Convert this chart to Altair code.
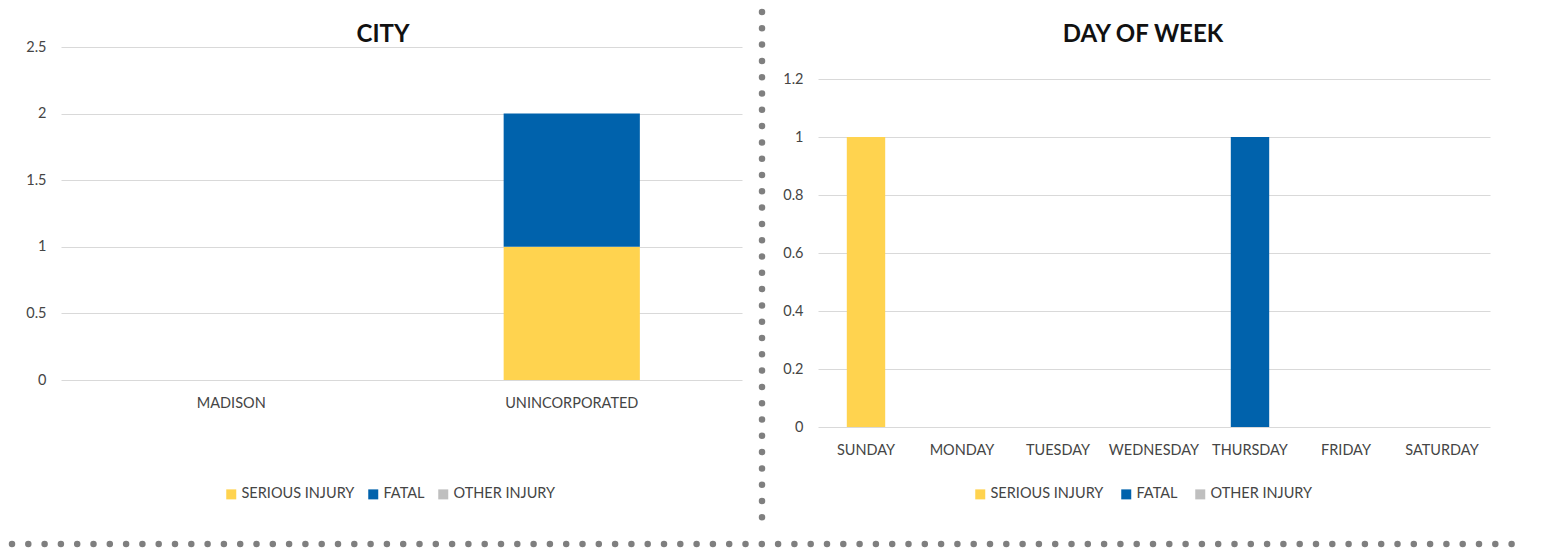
import altair as alt
import pandas as pd

# ---- data ----
severity = ["SERIOUS INJURY", "FATAL", "OTHER INJURY"]
sev_colors = ["#FFD34F", "#0062AC", "#BFBFBF"]

cities = ["MADISON", "UNINCORPORATED"]
city_serious = [0, 1]
city_fatal = [0, 1]
city_other = [0, 0]

days = ["SUNDAY", "MONDAY", "TUESDAY", "WEDNESDAY", "THURSDAY", "FRIDAY", "SATURDAY"]
day_serious = [1, 0, 0, 0, 0, 0, 0]
day_fatal = [0, 0, 0, 0, 1, 0, 0]
day_other = [0, 0, 0, 0, 0, 0, 0]

city_ticks = [0, 0.5, 1, 1.5, 2, 2.5]
day_ticks = [0, 0.2, 0.4, 0.6, 0.8, 1.0, 1.2]


def long_table(cats, series):
    rows = []
    for si, (name, vals) in enumerate(zip(severity, series)):
        for c, v in zip(cats, vals):
            rows.append({"cat": c, "severity": name, "sev_idx": si, "value": v})
    return pd.DataFrame(rows)


city_df = long_table(cities, [city_serious, city_fatal, city_other])
day_df = long_table(days, [day_serious, day_fatal, day_other])

FONT = "Lato"
TEXT = "#454545"
GRID = "#D9D9D9"
DOT = "#7F7F7F"
FS = 14.5

one = pd.DataFrame({"k": [0]})


def panel(df, cats, ticks, ymax, title, title_x, legend_x, legend_y, col_pad):
    bars = alt.Chart(df).mark_bar().encode(
        x=alt.X("cat:N", sort=cats,
                scale=alt.Scale(paddingInner=0.6, paddingOuter=0.3),
                axis=alt.Axis(title=None, labelAngle=0, domain=False, ticks=False,
                              labelPadding=16, labelFontSize=FS, labelFont=FONT,
                              labelColor=TEXT, grid=False)),
        y=alt.Y("value:Q", stack="zero",
                scale=alt.Scale(domain=[0, ymax], nice=False, zero=True),
                axis=alt.Axis(title=None, values=ticks, format="~g", domain=False,
                              ticks=False, labelPadding=15, labelFontSize=FS,
                              labelFont=FONT, labelColor=TEXT, grid=True,
                              gridColor=GRID, gridWidth=1.2)),
        color=alt.Color("severity:N",
                        scale=alt.Scale(domain=severity, range=sev_colors),
                        legend=alt.Legend(title=None, orient="none", direction="horizontal",
                                          legendX=legend_x, legendY=legend_y,
                                          symbolType="square", symbolSize=100,
                                          symbolStrokeWidth=0, labelFontSize=FS,
                                          labelFont=FONT, labelColor=TEXT,
                                          labelOffset=3, columnPadding=col_pad)),
        order=alt.Order("sev_idx:Q", sort="ascending"),
    )
    ttl = alt.Chart(one).mark_text(text=title, font=FONT, fontSize=24, fontWeight="bold",
                                   color="#111111", align="center",
                                   baseline="alphabetic").encode(
        x=alt.value(title_x), y=alt.value(-5))
    return bars, ttl


bars_l, ttl_l = panel(city_df, cities, city_ticks, 2.5, "CITY", 322, 163, 440, 11)

# separators (decoration), placed relative to the left panel
vsep = alt.Chart(one).mark_rule(color=DOT, strokeWidth=6.5, strokeCap="round",
                                strokeDash=[0, 16.3]).encode(
    x=alt.value(701), y=alt.value(-35), y2=alt.value(477))
hsep = alt.Chart(one).mark_rule(color=DOT, strokeWidth=6.5, strokeCap="round",
                                strokeDash=[0, 16.3]).encode(
    x=alt.value(-49), x2=alt.value(1462), y=alt.value(497))

left = alt.layer(bars_l, ttl_l, vsep, hsep).properties(width=681, height=333)

# right panel: its 1.2 gridline sits 32px below the left panel's top
right_height = 380
right_max = 1.2 * right_height / 348
bars_r, ttl_r = panel(day_df, days, day_ticks, right_max,
                      "DAY OF WEEK", 325, 155, 440, 15)
right = alt.layer(bars_r, ttl_r).properties(width=672, height=right_height)

chart = alt.hconcat(left, right, spacing=76, bounds="flush").resolve_scale(
    color="independent").resolve_legend(color="independent").configure_view(
    strokeWidth=0).properties(padding=0)

chart.save("out.html", embed_options={"renderer": "svg", "actions": False})
